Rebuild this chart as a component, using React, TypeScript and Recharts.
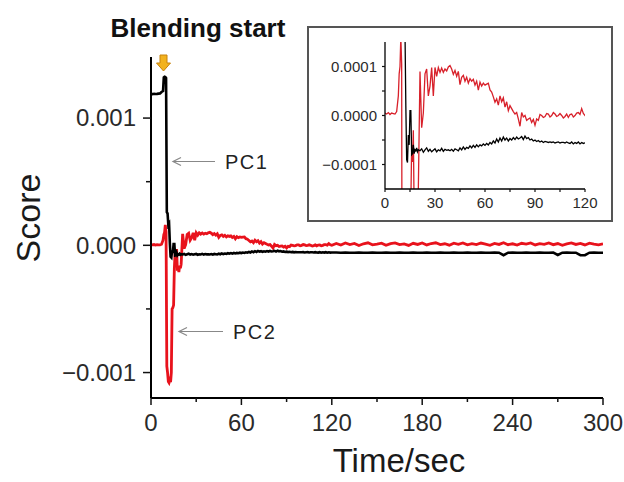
import React from "react";
import { LineChart, Line, XAxis, YAxis } from "recharts";

// Time axis (seconds)
const time: number[] = [
  0, 1, 2, 3, 4, 5, 6, 7, 8,
  8.5, 9, 9.5, 10, 10.5, 11, 11.5, 12, 12.5, 13, 13.5, 14, 14.5, 15, 15.5, 16, 16.5, 17, 17.5, 18, 18.5, 19, 19.5, 20,
  21, 22, 23, 24, 25, 26, 27, 28, 29, 30,
  31, 32, 33, 34, 35, 36, 37, 38, 39, 40,
  41, 42, 43, 44, 45, 46, 47, 48, 49, 50,
  51, 52, 53, 54, 55, 56, 57, 58, 59, 60,
  61, 62, 63, 64, 65, 66, 67, 68, 69, 70,
  71, 72, 73, 74, 75, 76, 77, 78, 79, 80,
  81, 82, 83, 84, 85, 86, 87, 88, 89, 90,
  91, 92, 93, 94, 95, 96, 97, 98, 99, 100,
  101, 102, 103, 104, 105, 106, 107, 108, 109, 110,
  111, 112, 113, 114, 115, 116, 117, 118, 119, 120,
  123, 126, 129, 132, 135, 138, 141, 144, 147, 150,
  153, 156, 159, 162, 165, 168, 171, 174, 177, 180,
  183, 186, 189, 192, 195, 198, 201, 204, 207, 210,
  213, 216, 219, 222, 225, 228, 231, 234, 237, 240,
  243, 246, 249, 252, 255, 258, 261, 264, 267, 270,
  273, 276, 279, 282, 285, 288, 291, 294, 297, 300,
];

// PC1 score, in units of 1e-6
const pc1Micro: number[] = [
  1190, 1188, 1191, 1189, 1190, 1192, 1193, 1205, 1212,
  1320, 1325, 1322, 1315, 260, 250, 160, 170, 20, -90, -96, -40, -60, 10, 10, -80, -78, -60, -78, -70, -72, -66, -74, -70,
  -72, -68, -75, -70, -66, -73, -69, -74, -71, -68,
  -74, -70, -72, -67, -73, -69, -71, -70, -72, -69,
  -73, -68, -70, -72, -66, -70, -64, -69, -65, -67,
  -62, -66, -61, -65, -60, -64, -60, -62, -58, -61,
  -57, -60, -55, -58, -52, -56, -48, -54, -46, -52,
  -44, -50, -46, -52, -47, -50, -45, -49, -44, -48,
  -46, -43, -49, -42, -47, -45, -50, -48, -52, -50,
  -53, -51, -54, -52, -55, -53, -54, -55, -54, -55,
  -54, -56, -55, -54, -56, -55, -55, -56, -54, -56,
  -57, -54, -58, -55, -57, -54, -58, -55, -57, -56,
  -57, -58, -57, -58, -58, -57, -58, -58, -57, -58,
  -58, -57, -58, -58, -57, -58, -58, -57, -58, -58,
  -57, -58, -58, -57, -58, -58, -57, -58, -58, -57,
  -58, -58, -57, -58, -58, -57, -58, -78, -58, -57,
  -58, -58, -57, -58, -58, -57, -58, -58, -57, -76,
  -58, -57, -58, -58, -78, -77, -58, -57, -58, -58,
];

// PC2 score, in units of 1e-6
const pc2Micro: number[] = [
  5, 3, 6, 2, 5, 4, 3, 8, 40,
  85, 100, 160, 105, -950, -1000, -1070, -1080, -1060, -1075, -1000, -500, -490, -470, -180, -60, -95, -30, -200, -170, -210, -160, -180, -150,
  90, -25, 5, 85, 95, 40, 60, 98, 40, 98,
  80, 98, 88, 97, 88, 95, 91, 99, 102, 95,
  84, 92, 80, 90, 63, 78, 82, 70, 78, 66,
  75, 70, 74, 62, 70, 52, 68, 60, 66, 62,
  64, 66, 52, 48, 38, 27, 34, 21, 40, 28,
  36, 17, 28, 10, 20, 14, 8, 3, 6, -7,
  -22, 6, -3, 0, -10, -7, -5, -14, -8, -20,
  -7, -10, 2, 0, -4, -2, 4, 3, -3, 0,
  6, 3, -2, 0, 4, 0, -5, -2, 3, -4,
  2, 3, -3, 0, 5, 6, 2, 14, 4, 0,
  14, 2, 18, 6, 15, -2, 12, 20, 4, 10,
  17, 0, 13, 19, 5, 11, -1, 16, 7, 18,
  3, 14, 20, 6, 12, 1, 17, 8, 19, 4,
  13, 6, 18, 10, 0, 15, 7, 20, 5, 12,
  2, 16, 9, 19, 3, 13, 7, 18, 5, 14,
  0, 11, 19, 7, 15, 3, 17, 9, 4, 12,
];

// Tick values and labels
const mainXTicks = [0, 30, 60, 90, 120, 150, 180, 210, 240, 270, 300];
const mainXLabels = ["0", "", "60", "", "120", "", "180", "", "240", "", "300"];
const mainYTicks = [-0.001, -0.0005, 0, 0.0005, 0.001];
const mainYLabels = ["\u22120.001", "", "0.000", "", "0.001"];
const insetXTicks = [0, 15, 30, 45, 60, 75, 90, 105, 120];
const insetXLabels = ["0", "", "30", "", "60", "", "90", "", "120"];
const insetYTicks = [-0.0001, -0.00005, 0, 0.00005, 0.0001];
const insetYLabels = ["\u22120.0001", "", "0.0000", "", "0.0001"];

const data = time.map((t, i) => ({
  t,
  pc1: pc1Micro[i] * 1e-6,
  pc2: pc2Micro[i] * 1e-6,
}));

const FONT = "'Liberation Sans', Arial, sans-serif";

const findIdx = (ticks: number[], v: number) => {
  let best = 0;
  let bd = Infinity;
  ticks.forEach((tk, i) => {
    const d = Math.abs(tk - v);
    if (d < bd) {
      bd = d;
      best = i;
    }
  });
  return best;
};

const makeXTick = (ticks: number[], labels: string[], majorLen: number, minorLen: number, labelOff: number, fs: number, sw: number) =>
  (props: any) => {
    const { x, y, payload } = props;
    const i = findIdx(ticks, payload.value);
    const lab = labels[i];
    const major = lab !== "";
    return (
      <g>
        <line x1={x} y1={y} x2={x} y2={y + (major ? majorLen : minorLen)} stroke="#111" strokeWidth={sw} />
        {major && (
          <text x={x} y={y + labelOff} textAnchor="middle" dy="0.35em" fontSize={fs} fill="#2a2a2a" fontFamily={FONT}>
            {lab}
          </text>
        )}
      </g>
    );
  };

const makeYTick = (ticks: number[], labels: string[], majorLen: number, minorLen: number, labelOff: number, fs: number, sw: number) =>
  (props: any) => {
    const { x, y, payload } = props;
    const i = findIdx(ticks, payload.value);
    const lab = labels[i];
    const major = lab !== "";
    return (
      <g>
        <line x1={x} y1={y} x2={x - (major ? majorLen : minorLen)} y2={y} stroke="#111" strokeWidth={sw} />
        {major && (
          <text x={x - labelOff} y={y} textAnchor="end" dy="0.35em" fontSize={fs} fill="#2a2a2a" fontFamily={FONT}>
            {lab}
          </text>
        )}
      </g>
    );
  };

const MainXTick = makeXTick(mainXTicks, mainXLabels, 7, 4, 25, 24, 1.5);
const MainYTick = makeYTick(mainYTicks, mainYLabels, 8, 5, 15, 24, 1.5);
const InsetXTick = makeXTick(insetXTicks, insetXLabels, 3, 3, 13.5, 15, 1.2);
const InsetYTick = makeYTick(insetYTicks, insetYLabels, 3, 3, 8, 15, 1.2);

export default function App() {
  return (
    <div style={{ position: "absolute", left: 0, top: 0, width: 624, height: 482, background: "#fff", overflow: "hidden" }}>
      <div style={{ position: "absolute", left: 0, top: 0 }}>
        <LineChart width={624} height={482} data={data} margin={{ top: 57, right: 21, bottom: 34, left: 51 }}>
          <XAxis
            dataKey="t"
            type="number"
            domain={[0, 300]}
            ticks={mainXTicks}
            interval={0}
            height={50}
            tickSize={0}
            tickMargin={0}
            axisLine={{ stroke: "#000", strokeWidth: 2 }}
            tick={MainXTick}
            allowDataOverflow
          />
          <YAxis
            type="number"
            domain={[-0.0012, 0.00148]}
            ticks={mainYTicks}
            interval={0}
            width={100}
            tickSize={0}
            tickMargin={0}
            axisLine={{ stroke: "#000", strokeWidth: 2 }}
            tick={MainYTick}
            allowDataOverflow
          />
          <Line dataKey="pc2" type="linear" stroke="#e8121c" strokeWidth={2.8} dot={false} isAnimationActive={false} />
          <Line dataKey="pc1" type="linear" stroke="#000" strokeWidth={2.6} dot={false} isAnimationActive={false} />
        </LineChart>
      </div>

      <div
        style={{
          position: "absolute",
          left: 307,
          top: 26,
          width: 306,
          height: 196,
          boxSizing: "border-box",
          border: "2px solid #555",
          background: "#fff",
        }}
      />

      <div style={{ position: "absolute", left: 0, top: 0 }}>
        <LineChart width={624} height={482} data={data} margin={{ top: 42, right: 39, bottom: 263, left: 325 }}>
          <XAxis
            dataKey="t"
            type="number"
            domain={[0, 120]}
            ticks={insetXTicks}
            interval={0}
            height={30}
            tickSize={0}
            tickMargin={0}
            axisLine={{ stroke: "#000", strokeWidth: 1.3 }}
            tick={InsetXTick}
            allowDataOverflow
          />
          <YAxis
            type="number"
            domain={[-0.00015, 0.00015]}
            ticks={insetYTicks}
            interval={0}
            width={60}
            tickSize={0}
            tickMargin={0}
            axisLine={{ stroke: "#000", strokeWidth: 1.3 }}
            tick={InsetYTick}
            allowDataOverflow
          />
          <Line dataKey="pc2" type="linear" stroke="#d8202a" strokeWidth={1.3} dot={false} isAnimationActive={false} />
          <Line dataKey="pc1" type="linear" stroke="#000" strokeWidth={1.3} dot={false} isAnimationActive={false} />
        </LineChart>
      </div>

      <svg width={624} height={482} style={{ position: "absolute", left: 0, top: 0, pointerEvents: "none" }}>
        <text x={198} y={37} textAnchor="middle" fontSize={26} fontWeight="bold" fill="#111" fontFamily={FONT}>
          Blending start
        </text>
        <path
          d="M160,55 L167,55 L167,63 L170.5,63 L163.5,71 L156.5,63 L160,63 Z"
          fill="#f2b21e"
          stroke="#c7820c"
          strokeWidth={1}
        />
        <text x={40} y={218} textAnchor="middle" fontSize={34} fill="#1a1a1a" fontFamily={FONT} transform="rotate(-90 40 218)">
          Score
        </text>
        <text x={399} y={472} textAnchor="middle" fontSize={33} fill="#1a1a1a" fontFamily={FONT}>
          Time/sec
        </text>
        <g stroke="#888" strokeWidth={1.2} fill="none">
          <line x1={173} y1={161.5} x2={215} y2={161.5} />
          <polyline points="181,157.5 173,161.5 181,165.5" />
          <line x1={179} y1={331.5} x2={223} y2={331.5} />
          <polyline points="187,327.5 179,331.5 187,335.5" />
        </g>
        <text x={225} y={162} dy="0.35em" fontSize={20} letterSpacing={1.5} fill="#222" fontFamily={FONT}>
          PC1
        </text>
        <text x={233} y={332} dy="0.35em" fontSize={20} letterSpacing={1.5} fill="#222" fontFamily={FONT}>
          PC2
        </text>
      </svg>
    </div>
  );
}
